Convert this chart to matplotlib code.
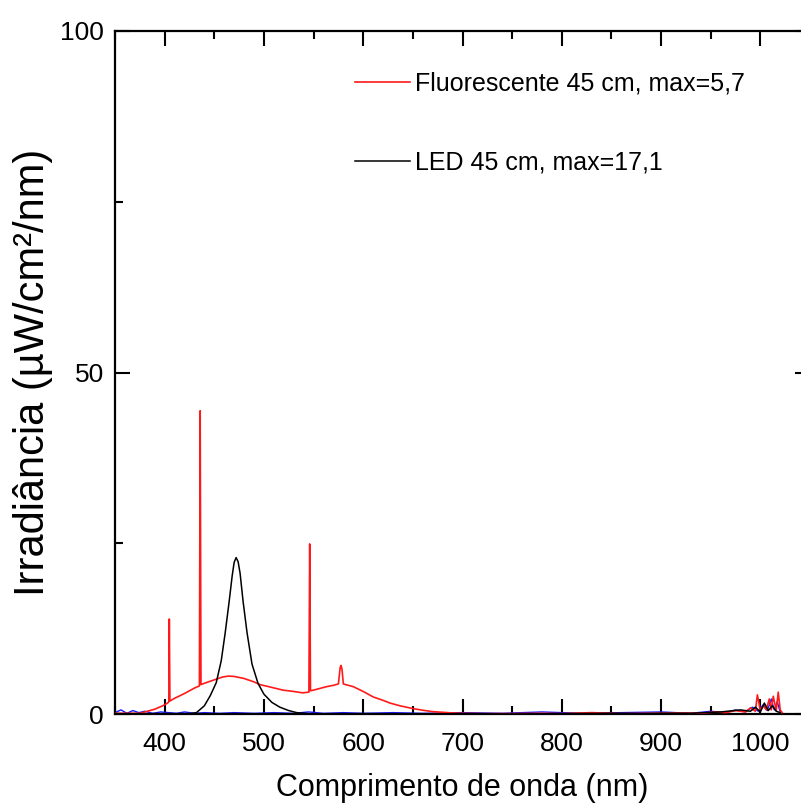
import matplotlib
matplotlib.use("Agg")
import matplotlib.pyplot as plt
from matplotlib.ticker import MultipleLocator

# ---------------- data ----------------
fluor_wl = [350, 360, 370, 375, 380, 390, 398, 403, 404.2, 404.7, 405.3, 410, 420, 430, 435, 435.8, 436.6,
            440, 450, 458, 464, 470, 480, 490, 496, 505, 519, 530, 539, 545.3, 546.1, 546.9, 550, 563,
            570, 575, 576.8, 577.6, 578.6, 580, 590, 600, 610, 620, 627, 637, 650, 660, 670, 680, 690,
            700, 720, 750, 780, 800, 830, 860, 890, 920,
            940, 955, 965, 975, 985, 990, 995, 997, 1000, 1003, 1006, 1009, 1011, 1013, 1016, 1018, 1020, 1022]
fluor_val = [0.1, 0.1, 0.1, 0.1, 0.3, 0.7, 1.2, 1.6, 1.8, 13.9, 1.9, 2.3, 3.0, 3.8, 4.1, 44.4, 4.3,
             4.5, 5.0, 5.4, 5.55, 5.5, 5.2, 4.7, 4.3, 4.0, 3.5, 3.3, 3.1, 3.2, 24.9, 3.4, 3.5, 4.0,
             4.2, 4.4, 6.8, 7.1, 6.6, 4.4, 4.0, 3.3, 2.5, 2.0, 1.6, 1.2, 0.8, 0.55, 0.35, 0.25, 0.15,
             0.1, 0.05, 0.05, 0.1, 0.05, 0.2, 0.05, 0.1, 0.15,
             0.1, 0.3, 0.2, 0.5, 0.3, 0.9, 0.4, 2.8, 0.5, 1.2, 0.6, 2.2, 0.6, 2.6, 0.5, 3.2, 0.6, 0.2]

led_wl = [350, 380, 410, 425, 432, 440, 446, 452, 457, 461, 465, 468, 470, 472, 474, 476, 479, 483, 488, 494,
          500, 508, 516, 525, 533, 545, 560, 600, 650, 700, 750, 800, 850, 880, 900, 930, 960, 980,
          990, 995, 1000, 1004, 1008, 1012, 1016, 1020]
led_val = [0.05, 0.05, 0.05, 0.05, 0.2, 1.2, 2.7, 4.6, 7.8, 11.9, 16.5, 20.2, 22.2, 22.9, 22.3, 20.6, 16.5, 11.9,
           7.3, 4.5, 2.9, 1.7, 1.0, 0.5, 0.2, 0.05, 0.0, 0.05, 0.0, 0.05, 0.0, 0.05, 0.1, 0.05, 0.1,
           0.1, 0.3, 0.6, 0.4, 1.0, 0.3, 1.6, 0.5, 1.2, 0.4, 0.2]

blue_wl = [350, 356, 362, 368, 374, 380, 388, 396, 404, 412, 420, 430, 440, 455, 470, 490, 510, 530,
           545, 560, 580, 600, 630, 660, 700, 740, 780, 820, 860, 900, 930, 950, 965, 975, 985, 992,
           998, 1003, 1007, 1011, 1014, 1017, 1020]
blue_val = [0.2, 0.6, 0.1, 0.5, 0.2, 0.4, 0.1, 0.3, 0.2, 0.1, 0.3, 0.1, 0.2, 0.1, 0.2, 0.1, 0.2, 0.1,
            0.3, 0.1, 0.2, 0.1, 0.2, 0.1, 0.2, 0.1, 0.3, 0.1, 0.2, 0.3, 0.1, 0.4, 0.2, 0.6, 0.3, 1.0,
            0.4, 1.4, 0.5, 2.2, 0.6, 1.8, 0.3]

fluor_label = "Fluorescente 45 cm, max=5,7"
led_label = "LED 45 cm, max=17,1"
x_ticks = [400, 500, 600, 700, 800, 900, 1000]
y_ticks = [0, 50, 100]

# ---------------- fonts ----------------
plt.rcParams["font.family"] = ["Liberation Sans", "DejaVu Sans"]
fs_tick, fs_xlabel, fs_ylabel, fs_leg = 19, 22, 30, 18

# ---------------- figure ----------------
fig = plt.figure(figsize=(8.01, 8.09), dpi=100)
ax = fig.add_axes([115 / 801, (809 - 714) / 809, (810 - 115) / 801, (714 - 31) / 809])

ax.plot(fluor_wl, fluor_val, color="#ff1a1a", lw=1.2, label=fluor_label, zorder=3)
ax.plot(led_wl, led_val, color="black", lw=1.1, label=led_label, zorder=4)
ax.plot(blue_wl, blue_val, color="#1a1aff", lw=1.0, zorder=2)

ax.set_xlim(350, 1050)
ax.set_ylim(0, 100)
ax.set_xticks(x_ticks)
ax.set_yticks(y_ticks)
ax.xaxis.set_minor_locator(MultipleLocator(50))
ax.yaxis.set_minor_locator(MultipleLocator(25))
ax.tick_params(which="both", direction="in", top=True, right=True, width=1.5)
ax.tick_params(which="major", length=11)
ax.tick_params(which="minor", length=6)
ax.tick_params(axis="x", which="major", labelsize=fs_tick, pad=13)
ax.tick_params(axis="y", which="major", labelsize=fs_tick, pad=8)
for s in ax.spines.values():
    s.set_linewidth(1.6)

ax.set_xlabel("Comprimento de onda (nm)", fontsize=fs_xlabel, labelpad=12)
ax.set_ylabel("Irradiância (µW/cm²/nm)", fontsize=fs_ylabel, labelpad=5)

leg = ax.legend(loc="upper left", bbox_to_anchor=(0.345, 0.941), frameon=False,
                fontsize=fs_leg, handlelength=2.2, handletextpad=0.2,
                labelspacing=2.2, borderpad=0, borderaxespad=0)

fig.savefig("out.png", dpi=100)
